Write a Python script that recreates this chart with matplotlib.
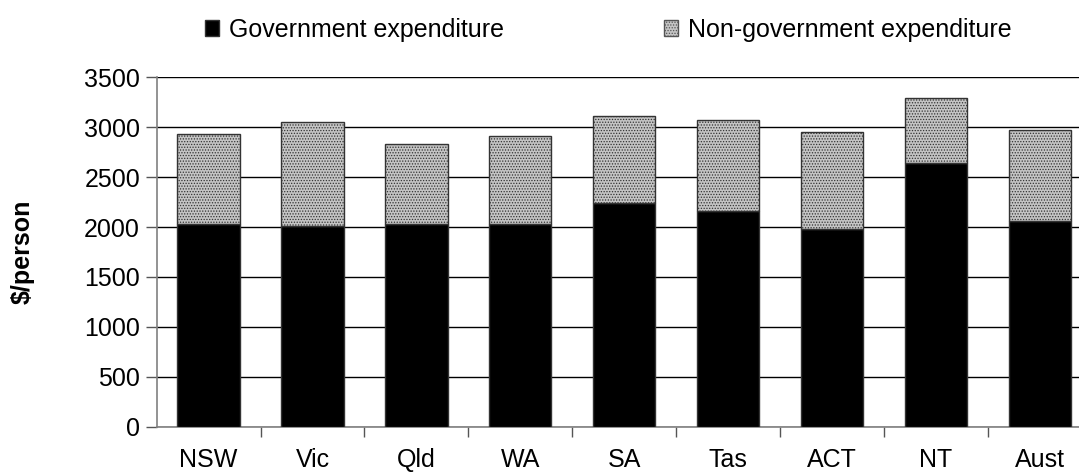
import matplotlib.pyplot as plt
from matplotlib.patches import Patch

plt.rcParams['font.family'] = ['Liberation Sans', 'DejaVu Sans']
plt.rcParams['hatch.color'] = '#a0a0a0'
plt.rcParams['hatch.linewidth'] = 0.6

states = ['NSW', 'Vic', 'Qld', 'WA', 'SA', 'Tas', 'ACT', 'NT', 'Aust']
gov = [2034, 2014, 2034, 2034, 2237, 2157, 1977, 2637, 2057]
non_gov = [900, 1036, 800, 876, 877, 917, 977, 657, 917]
yticks = [0, 500, 1000, 1500, 2000, 2500, 3000, 3500]

fig = plt.figure(figsize=(10.79, 4.74), dpi=100)
ax = fig.add_axes([0.1452, 0.0998, 0.8548, 0.7372])

x = range(len(states))
ax.bar(x, gov, width=0.6, color='black', edgecolor='#333333', linewidth=1, zorder=3)
ax.bar(x, non_gov, bottom=gov, width=0.6, color='#c4c4c4', edgecolor='#333333',
       linewidth=1, hatch='......', zorder=3)

ax.set_ylim(0, 3500)
ax.set_xlim(-0.5, 8.378)
ax.set_yticks(yticks)
ax.yaxis.grid(True, color='black', linewidth=1)
ax.set_axisbelow(True)

ax.set_xticks(x)
ax.set_xticklabels(states, fontsize=18)
ax.set_xticks([i + 0.5 for i in range(len(states) - 1)], minor=True)
ax.tick_params(axis='x', which='major', length=0, pad=15)
ax.tick_params(axis='x', which='minor', length=7, color='#555555', width=1)
ax.tick_params(axis='y', labelsize=18, length=8, color='#555555', width=1, pad=4)

for s in ['top', 'right']:
    ax.spines[s].set_visible(False)
ax.spines['left'].set_color('#808080')
ax.spines['bottom'].set_color('#808080')
ax.spines['left'].set_linewidth(1.2)
ax.spines['bottom'].set_linewidth(1.2)

ax.set_ylabel('$/person', fontsize=18, fontweight='bold', va='center')
ax.yaxis.set_label_coords(-0.1455, 0.5)

handles = [Patch(facecolor='black', edgecolor='#333333'),
           Patch(facecolor='#c4c4c4', edgecolor='#555555', hatch='......')]
fig.legend(handles, ['Government expenditure', 'Non-government expenditure'],
           loc='center', bbox_to_anchor=(0.564, 0.937), ncol=2, frameon=False,
           fontsize=18, handlelength=0.55, handleheight=0.55, handletextpad=0.4,
           columnspacing=6.4)

fig.savefig('out.png', dpi=100)
